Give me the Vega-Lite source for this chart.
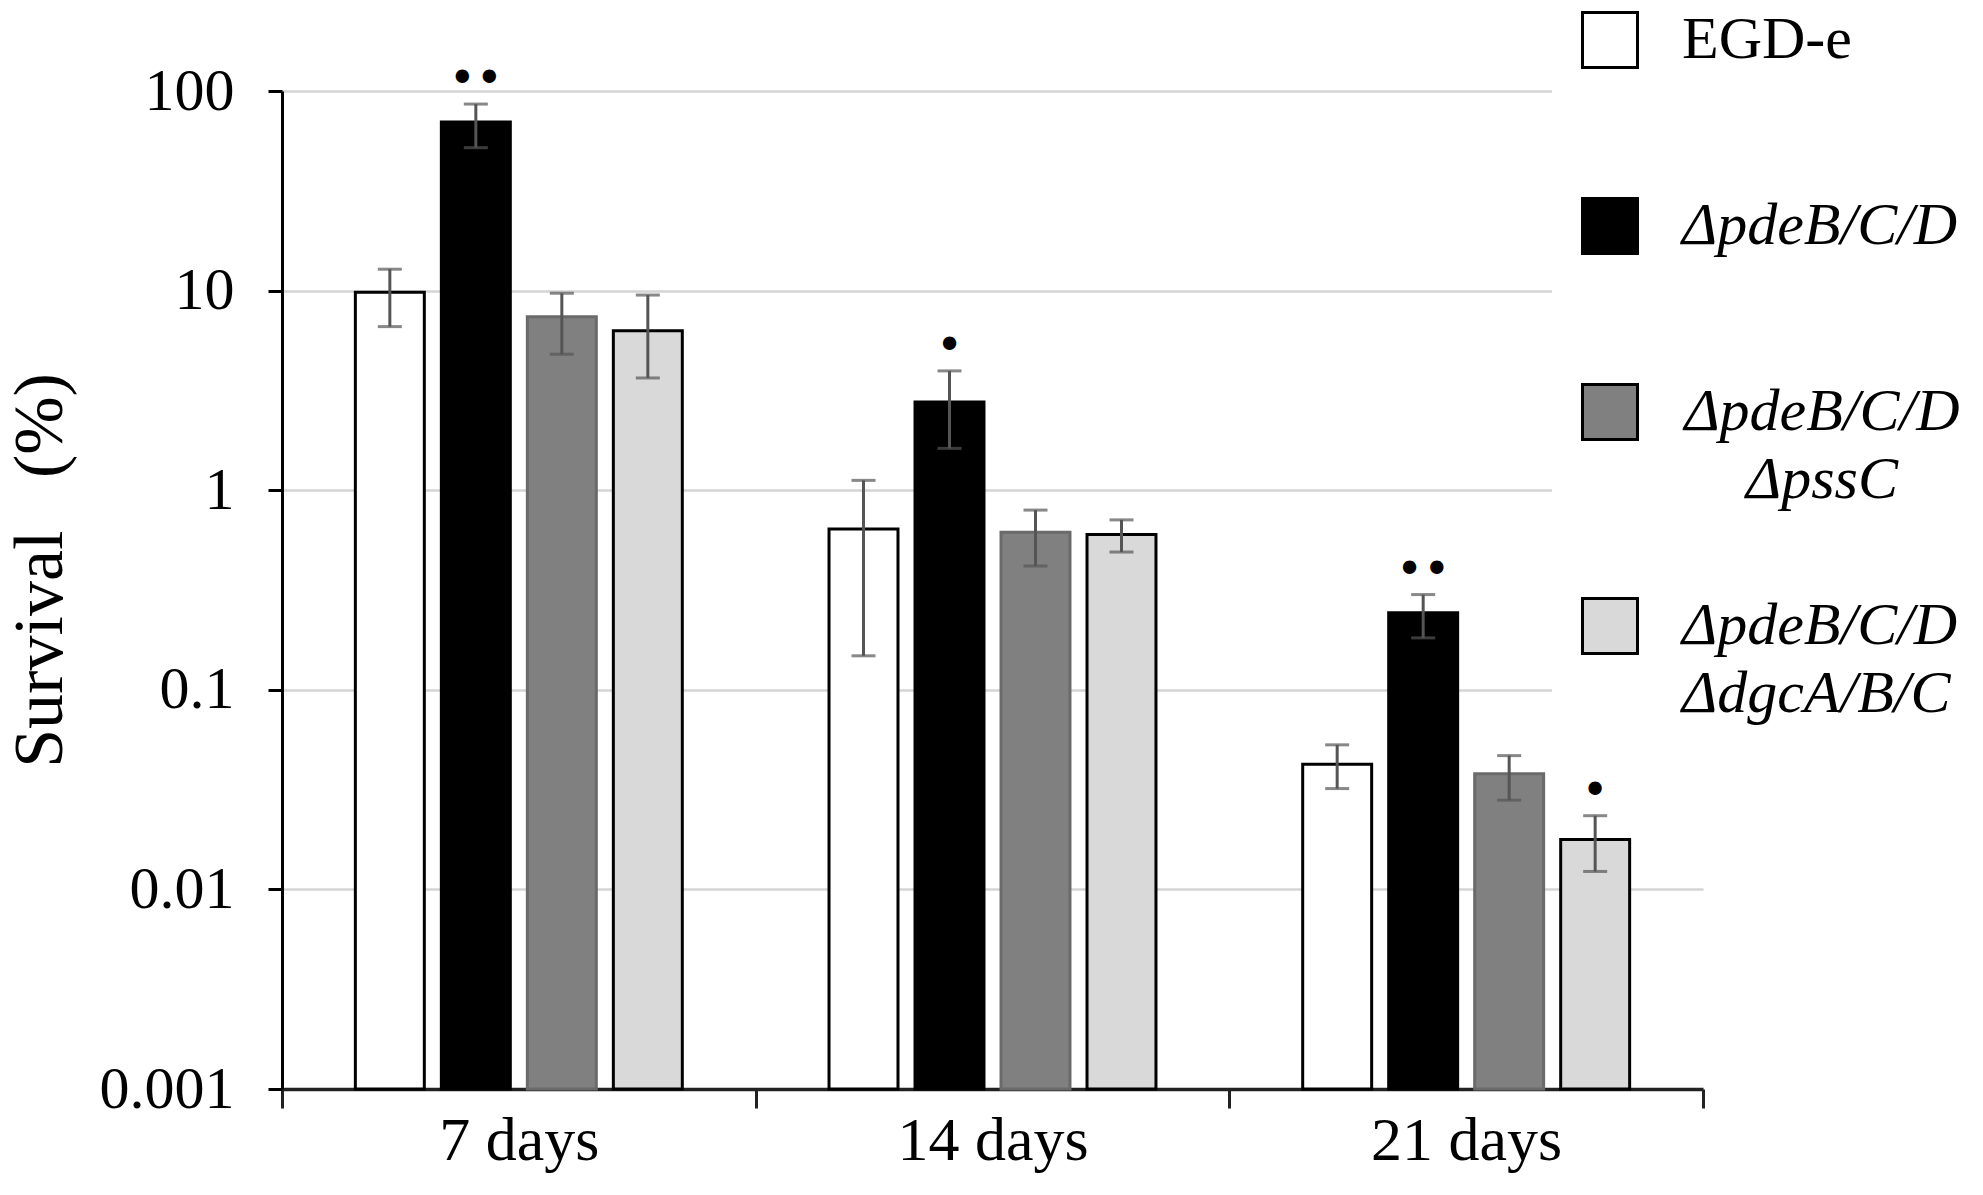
{
  "$schema": "https://vega.github.io/schema/vega-lite/v6.json",
  "width": 1421,
  "height": 998,
  "autosize": "none",
  "padding": {"left": 282, "top": 91, "right": 280, "bottom": 106},
  "background": "white",
  "config": {"view": {"stroke": null}, "font": "Liberation Serif"},
  "data": {
    "values": [
      {"day": "7 days", "strain": "EGD-e", "value": 9.8, "low": 6.6, "high": 12.8, "sig": ""},
      {"day": "7 days", "strain": "ΔpdeB/C/D", "value": 70, "low": 52, "high": 86, "sig": "••"},
      {"day": "7 days", "strain": "ΔpdeB/C/D ΔpssC", "value": 7.4, "low": 4.8, "high": 9.7, "sig": ""},
      {"day": "7 days", "strain": "ΔpdeB/C/D ΔdgcA/B/C", "value": 6.3, "low": 3.65, "high": 9.5, "sig": ""},
      {"day": "14 days", "strain": "EGD-e", "value": 0.64, "low": 0.148, "high": 1.12, "sig": ""},
      {"day": "14 days", "strain": "ΔpdeB/C/D", "value": 2.77, "low": 1.62, "high": 3.96, "sig": "•"},
      {"day": "14 days", "strain": "ΔpdeB/C/D ΔpssC", "value": 0.615, "low": 0.417, "high": 0.795, "sig": ""},
      {"day": "14 days", "strain": "ΔpdeB/C/D ΔdgcA/B/C", "value": 0.6, "low": 0.49, "high": 0.71, "sig": ""},
      {"day": "21 days", "strain": "EGD-e", "value": 0.0424, "low": 0.032, "high": 0.053, "sig": ""},
      {"day": "21 days", "strain": "ΔpdeB/C/D", "value": 0.243, "low": 0.182, "high": 0.3, "sig": "••"},
      {"day": "21 days", "strain": "ΔpdeB/C/D ΔpssC", "value": 0.038, "low": 0.028, "high": 0.0468, "sig": ""},
      {"day": "21 days", "strain": "ΔpdeB/C/D ΔdgcA/B/C", "value": 0.0178, "low": 0.0123, "high": 0.0234, "sig": "•"}
    ]
  },
  "encoding": {
    "x": {
      "field": "day",
      "type": "nominal",
      "sort": ["7 days", "14 days", "21 days"],
      "scale": {"paddingInner": 0, "paddingOuter": 0},
      "title": null,
      "axis": {
        "tickBand": "extent",
        "labelAngle": 0,
        "labelFontSize": 62,
        "labelColor": "black",
        "labelLimit": 0,
        "labelPadding": 2,
        "tickSize": 19,
        "tickWidth": 3,
        "tickColor": "#222222",
        "domainColor": "#222222",
        "domainWidth": 3.5
      }
    },
    "xOffset": {
      "field": "strain",
      "type": "nominal",
      "sort": ["EGD-e", "ΔpdeB/C/D", "ΔpdeB/C/D ΔpssC", "ΔpdeB/C/D ΔdgcA/B/C"],
      "scale": {"paddingInner": 0.198, "paddingOuter": 0.853}
    }
  },
  "layer": [
    {
      "mark": {"type": "bar", "strokeWidth": 3},
      "encoding": {
        "y": {
          "field": "value",
          "type": "quantitative",
          "scale": {"type": "log", "domain": [0.001, 100]},
          "title": "Survival\u00a0\u00a0\u00a0(%)",
          "axis": {
            "values": [0.001, 0.01, 0.1, 1, 10, 100],
            "format": "~g",
            "grid": true,
            "gridColor": "#d4d4d4",
            "gridWidth": 2.5,
            "domainColor": "black",
            "domainWidth": 3,
            "tickColor": "black",
            "tickWidth": 3,
            "tickSize": 14,
            "labelFontSize": 60,
            "labelColor": "black",
            "labelPadding": 34,
            "titleFontSize": 70,
            "titleFontWeight": "normal",
            "titleColor": "black",
            "titleX": -242,
            "titleY": 479,
            "titleAngle": -90,
            "titleAlign": "center",
            "titleBaseline": "middle"
          }
        },
        "y2": {"datum": 0.001},
        "fill": {
          "field": "strain",
          "type": "nominal",
          "sort": ["EGD-e", "ΔpdeB/C/D", "ΔpdeB/C/D ΔpssC", "ΔpdeB/C/D ΔdgcA/B/C"],
          "scale": {
            "domain": ["EGD-e", "ΔpdeB/C/D", "ΔpdeB/C/D ΔpssC", "ΔpdeB/C/D ΔdgcA/B/C"],
            "range": ["white", "black", "#808080", "#d9d9d9"]
          },
          "legend": {
            "title": null,
            "orient": "none",
            "legendX": 1270,
            "legendY": -149,
            "fillColor": "white",
            "padding": 28,
            "symbolType": "square",
            "symbolSize": 3025,
            "symbolStrokeColor": "black",
            "symbolStrokeWidth": 3,
            "labelFontSize": 60,
            "labelColor": "black",
            "labelOffset": 42,
            "labelLimit": 0,
            "rowPadding": 46,
            "clipHeight": 140,
            "labelExpr": "split(datum.label, ' ')",
            "encode": {
              "labels": {
                "update": {
                  "fontStyle": {"signal": "datum.value === 'EGD-e' ? 'normal' : 'italic'"},
                  "lineHeight": {"value": 68},
                  "align": {"signal": "datum.value === 'ΔpdeB/C/D ΔpssC' ? 'center' : 'left'"},
                  "dx": {"signal": "datum.value === 'ΔpdeB/C/D ΔpssC' ? 140 : 0"}
                }
              }
            }
          }
        },
        "stroke": {
          "condition": {"test": "datum.strain === 'ΔpdeB/C/D ΔpssC'", "value": "#6a6a6a"},
          "value": "black"
        }
      }
    },
    {
      "mark": {"type": "rule", "color": "#555555", "strokeWidth": 3},
      "encoding": {
        "y": {"field": "low", "type": "quantitative", "title": "Survival\u00a0\u00a0\u00a0(%)"},
        "y2": {"field": "high"}
      }
    },
    {
      "mark": {"type": "tick", "color": "#555555", "thickness": 3, "size": 24, "orient": "horizontal"},
      "encoding": {
        "y": {"field": "low", "type": "quantitative", "title": "Survival\u00a0\u00a0\u00a0(%)"}
      }
    },
    {
      "mark": {"type": "tick", "color": "#555555", "thickness": 3, "size": 24, "orient": "horizontal"},
      "encoding": {
        "y": {"field": "high", "type": "quantitative", "title": "Survival\u00a0\u00a0\u00a0(%)"}
      }
    },
    {
      "transform": [{"filter": "datum.sig != ''"}],
      "mark": {"type": "text", "font": "DejaVu Sans", "fontSize": 46, "dy": -24, "baseline": "middle", "color": "black"},
      "encoding": {
        "y": {"field": "high", "type": "quantitative", "title": "Survival\u00a0\u00a0\u00a0(%)"},
        "text": {"field": "sig"}
      }
    }
  ]
}
